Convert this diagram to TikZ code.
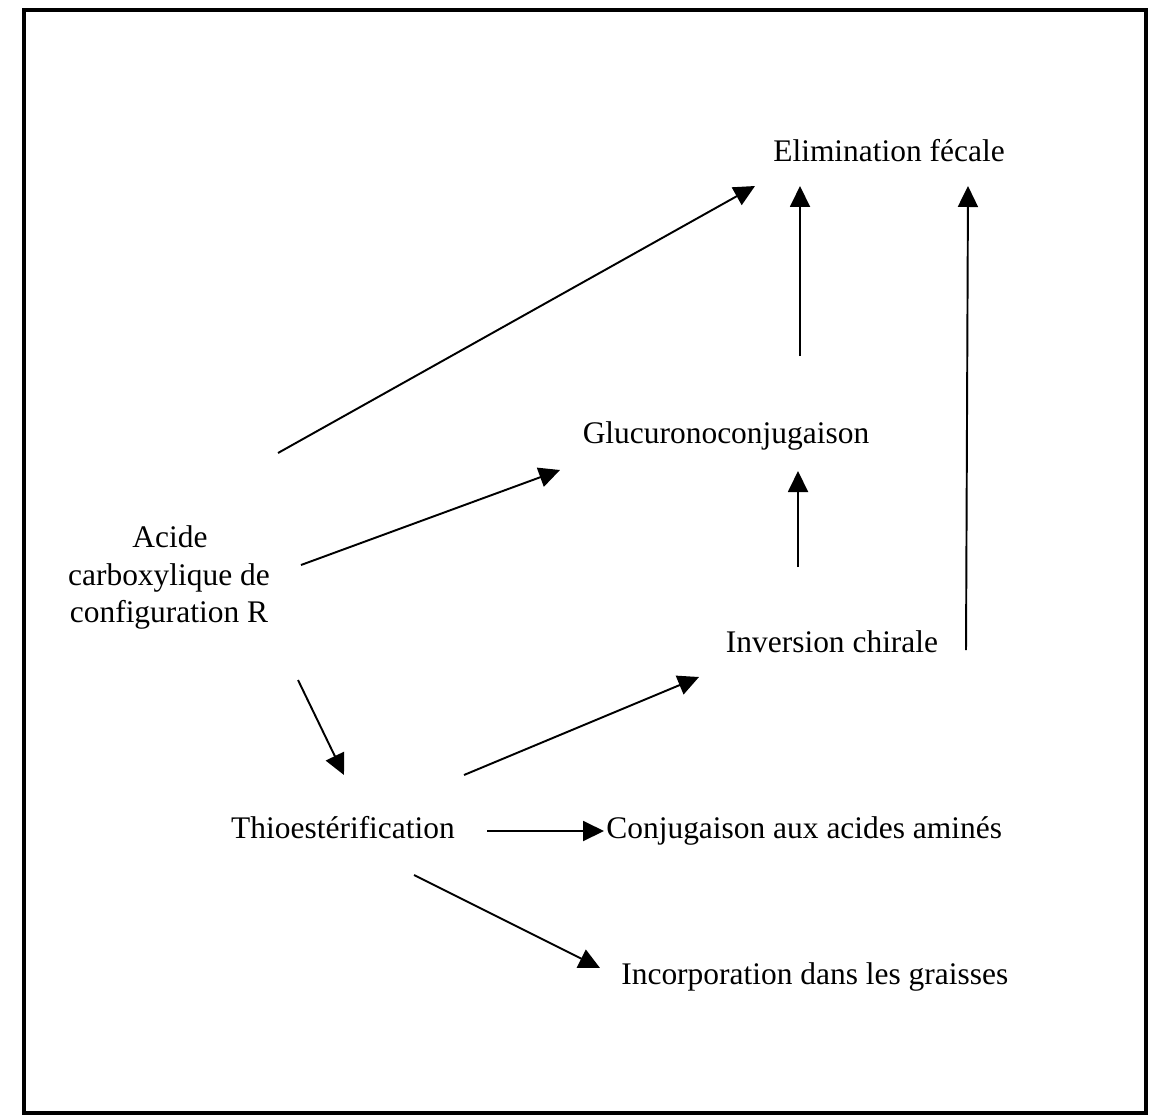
\documentclass[tikz,border=0pt]{standalone}
\usepackage{fontspec}
\setmainfont{Liberation Serif}
\usetikzlibrary{arrows.meta}
\begin{document}
\begin{tikzpicture}[x=0.02cm,y=-0.02cm,
  lbl/.style={font=\fontsize{17.9}{20.5}\selectfont, inner sep=0pt, anchor=base},
  arr/.style={line width=1.1pt, -{Triangle[length=0.42cm,width=0.40cm]}},
  frame/.style={line width=2.3pt}]
\useasboundingbox (0,0) rectangle (1158,1118);
\draw[frame] (24,10) rectangle (1146,1113);
% labels
\node[lbl] (elim) at (889,162) {Elimination fécale};
\node[lbl] (gluc) at (726,443) {Glucuronoconjugaison};
\node[lbl] (acide1) at (170,547) {Acide};
\node[lbl] (acide2) at (169,585) {carboxylique de};
\node[lbl] (acide3) at (169,622) {configuration R};
\node[lbl] (inv) at (832,652) {Inversion chirale};
\node[lbl] (thio) at (343,838) {Thioestérification};
\node[lbl,anchor=base west] (conj) at (606,838) {Conjugaison aux acides aminés};
\node[lbl,anchor=base west] (incorp) at (621,984) {Incorporation dans les graisses};
% connector end points
\coordinate (a1s) at (278,453); \coordinate (a1e) at (755,186);
\coordinate (a2s) at (301,565); \coordinate (a2e) at (560,470);
\coordinate (a3s) at (298,680); \coordinate (a3e) at (344,775);
\coordinate (a4s) at (800,356); \coordinate (a4e) at (800,186);
\coordinate (a5s) at (798,567); \coordinate (a5e) at (798,471);
\coordinate (a6s) at (966,650); \coordinate (a6e) at (968,186);
\coordinate (a7s) at (464,775); \coordinate (a7e) at (699,677);
\coordinate (a8s) at (487,831); \coordinate (a8e) at (604,831);
\coordinate (a9s) at (414,875); \coordinate (a9e) at (600,968);
\draw[arr] (a1s) -- (a1e);
\draw[arr] (a2s) -- (a2e);
\draw[arr] (a3s) -- (a3e);
\draw[arr] (a4s) -- (a4e);
\draw[arr] (a5s) -- (a5e);
\draw[arr] (a6s) -- (a6e);
\draw[arr] (a7s) -- (a7e);
\draw[arr] (a8s) -- (a8e);
\draw[arr] (a9s) -- (a9e);
\end{tikzpicture}
\end{document}
